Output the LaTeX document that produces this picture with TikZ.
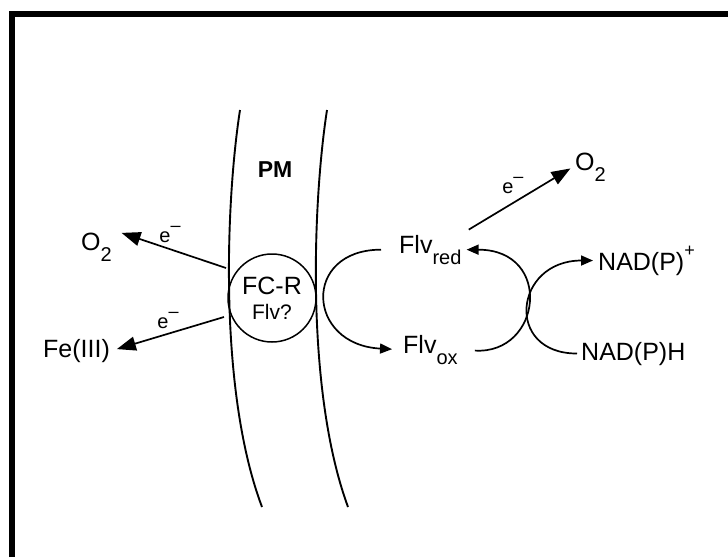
\documentclass[tikz,border=0pt]{standalone}
\usepackage{fontspec}
\setmainfont{Liberation Sans}
\usetikzlibrary{arrows.meta,positioning}
\newcommand{\lsub}[1]{\raisebox{-0.45em}{\fontsize{20}{20}\selectfont #1}}
\newcommand{\lsup}[1]{\raisebox{0.55em}{\fontsize{18}{18}\selectfont #1}}
\tikzset{
  lab/.style={font=\fontsize{25}{26}\selectfont,inner sep=2pt},
  elab/.style={font=\fontsize{20}{20}\selectfont,inner sep=1pt},
  pmlab/.style={font=\fontsize{23}{24}\selectfont\bfseries},
  enz/.style={circle,draw=black,line width=1.5pt,minimum size=88pt,inner sep=0pt,align=center,font=\fontsize{25}{25}\selectfont},
  memb/.style={line width=1.9pt,black},
  frame/.style={line width=6pt,black,line join=miter},
  arrbig/.style={line width=1.7pt,-{Triangle[length=19pt,width=14pt]}},
  arrsmall/.style={line width=1.7pt,-{Triangle[length=12pt,width=10pt]}}
}
\begin{document}
\begin{tikzpicture}[x=1pt,y=-1pt]
  \useasboundingbox (0,0) rectangle (728,557);
  % frame, cut off at right and bottom
  \draw[frame] (12,557) -- (12,14) -- (728,14);

  % plasma membrane
  \draw[memb] (240,110) .. controls (226,200) and (218,390) .. (262,507);
  \draw[memb] (327,110) .. controls (313,200) and (305,390) .. (348,507);
  \node[pmlab] (pm) at (275,170) {PM};
  \node[enz] (fcr) at (272,298) {FC-R\\{\fontsize{21}{25}\selectfont Flv?}};

  % outside: electrons to O2 and Fe(III)
  \node[lab,anchor=base west] (o2left) at (79,250) {O\lsub{2}};
  \node[lab,anchor=base west] (fe) at (41,357) {Fe(III)};
  \coordinate (memA) at (226,268);
  \coordinate (memB) at (224,317);
  \draw[arrbig,shorten >=8pt] (memA) -- (o2left.north east) node[elab,midway,above=5pt] {e\lsup{\textendash}};
  \draw[arrbig,shorten >=5pt] (memB) -- (fe.east) node[elab,midway,above=3pt] {e\lsup{\textendash}};

  % inside: flavin cycle
  \node[lab,anchor=base west] (flvred) at (397,253) {Flv\lsub{red}};
  \node[lab,anchor=base west] (flvox) at (401,353) {Flv\lsub{ox}};
  \node[lab,anchor=base west] (o2right) at (573,170) {O\lsub{2}};
  \node[lab,anchor=base west] (nadp) at (596,270) {NAD(P)\lsup{+}};
  \node[lab,anchor=base west] (nadph) at (579,360) {NAD(P)H};

  \draw[arrbig,shorten <=6pt,shorten >=3pt] (flvred.north east) -- (o2right.west) node[elab,pos=0.45,above=8pt] {e\lsup{\textendash}};
  \draw[arrsmall,shorten <=16pt,shorten >=9pt] (flvred.west) .. controls +(-95,0) and +(-95,-5) .. (flvox.west);
  \draw[arrsmall,shorten <=15pt,shorten >=3pt] (flvox.east) .. controls +(82,5) and +(90,0) .. (flvred.east);
  \draw[arrsmall,shorten <=2pt,shorten >=3pt] (nadph.west) .. controls +(-75,0) and +(-82,0) .. (nadp.west);
\end{tikzpicture}
\end{document}
